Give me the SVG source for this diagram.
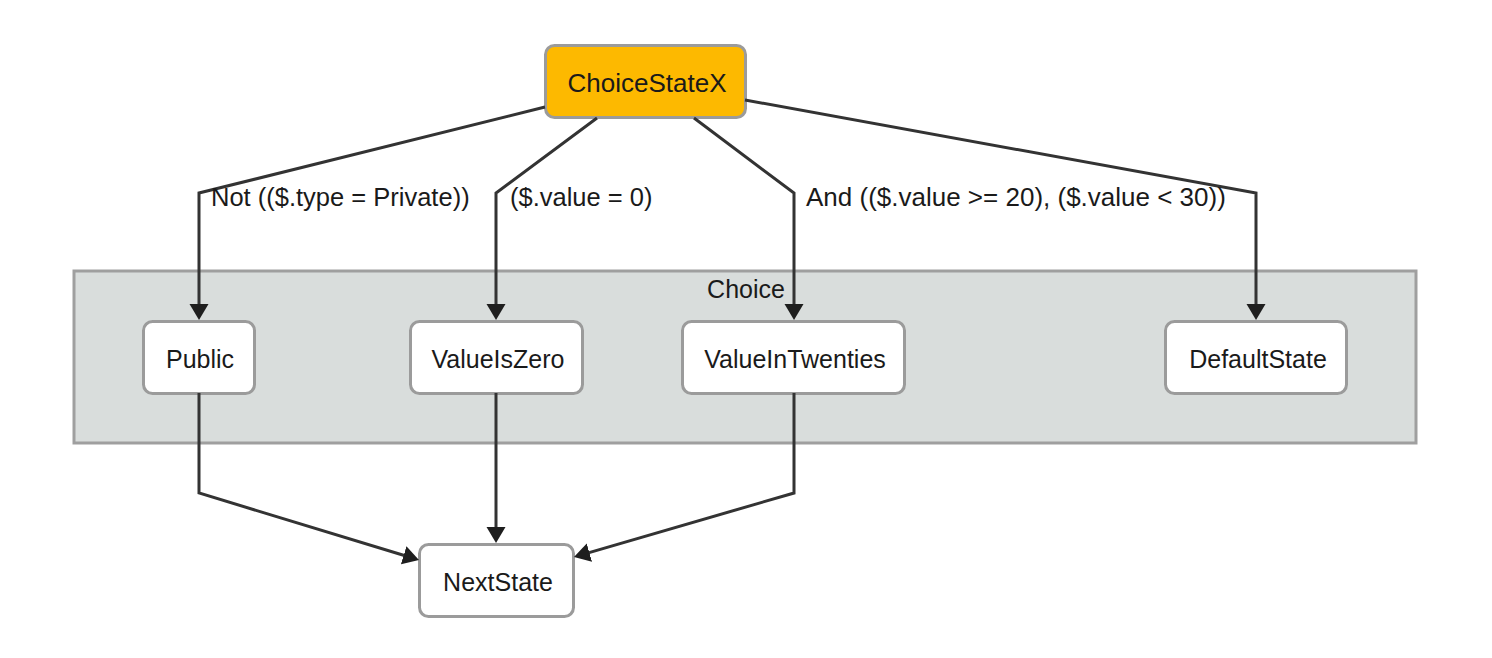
<svg xmlns="http://www.w3.org/2000/svg" width="1492" height="658" viewBox="0 0 1492 658">
<style>
text{font-family:"Liberation Sans",Arial,Helvetica,sans-serif;font-size:25px;fill:#1a1a1a}
.node rect{fill:#ffffff;stroke:#9b9b9b;stroke-width:3}
.node.start rect{fill:#fdb900}
.node.start text{font-size:26px}
.node text{text-anchor:middle}
.edge{fill:none;stroke:#333333;stroke-width:3;marker-end:url(#arrow)}
.cluster rect{fill:#d9dddc;stroke:#9f9f9f;stroke-width:3}
.lbl{font-size:25.5px}
.lbl.wide{font-size:26px}
</style>
<defs>
<marker id="arrow" markerUnits="userSpaceOnUse" markerWidth="17" markerHeight="20" refX="11" refY="10" orient="auto" viewBox="0 0 17 20">
<path d="M0,0.5 L16,10 L0,19.5 z" fill="#1e1e1e"/>
</marker>
</defs>
<rect width="1492" height="658" fill="#ffffff"/>
<g id="cluster-choice" class="cluster">
<rect x="74" y="271" width="1342" height="172"/>
<text x="746" y="298" text-anchor="middle">Choice</text>
</g>
<g id="ChoiceStateX" class="node start">
<rect x="545.5" y="45.5" width="200" height="72" rx="9"/>
<text x="647" y="92">ChoiceStateX</text>
</g>
<g id="Public" class="node">
<rect x="143.5" y="321.5" width="111" height="72" rx="9"/>
<text x="200" y="368">Public</text>
</g>
<g id="ValueIsZero" class="node">
<rect x="410.5" y="321.5" width="172" height="72" rx="9"/>
<text x="498" y="368">ValueIsZero</text>
</g>
<g id="ValueInTwenties" class="node">
<rect x="682.5" y="321.5" width="222" height="72" rx="9"/>
<text x="795" y="368">ValueInTwenties</text>
</g>
<g id="DefaultState" class="node">
<rect x="1165.5" y="321.5" width="181" height="72" rx="9"/>
<text x="1258" y="368">DefaultState</text>
</g>
<g id="NextState" class="node">
<rect x="419.5" y="544.5" width="154" height="72" rx="9"/>
<text x="498" y="591">NextState</text>
</g>
<g id="connectors">
<path class="edge" d="M545,107 L199,193 L199,315"/>
<path class="edge" d="M597,118 L496,193 L496,315"/>
<path class="edge" d="M694,118 L794,193 L794,315"/>
<path class="edge" d="M745,100 L1256,193 L1256,315"/>
<path class="edge" d="M199,393 L199,493 L414.2,558.5"/>
<path class="edge" d="M496,393 L496,538"/>
<path class="edge" d="M794,393 L794,493 L578.8,555.6"/>
<text class="lbl" x="211" y="206">Not (($.type = Private))</text>
<text class="lbl" x="510" y="206">($.value = 0)</text>
<text class="lbl wide" x="806" y="206">And (($.value &gt;= 20), ($.value &lt; 30))</text>
</g>
</svg>
